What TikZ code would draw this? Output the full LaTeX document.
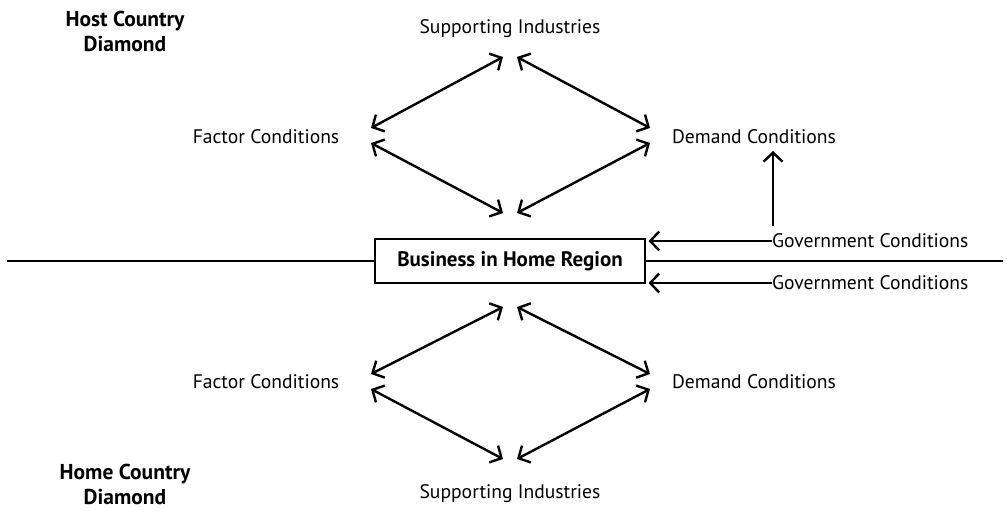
\documentclass[tikz,border=0pt]{standalone}
\usepackage{fontspec}
\setmainfont{PT Sans}
\usetikzlibrary{arrows.meta}
\begin{document}
\begin{tikzpicture}[x=1pt,y=-1pt,
  lbl/.style={font=\fontsize{19.6}{22}\selectfont, inner sep=0pt, anchor=center},
  blbl/.style={font=\fontsize{21.5}{25}\selectfont\bfseries, inner sep=0pt, align=center},
  arr/.style={line width=2.4pt, {Straight Barb[length=9pt,width=19pt,line width=2.4pt]}-{Straight Barb[length=9pt,width=19pt,line width=2.4pt]}},
  sarr/.style={line width=2.4pt, -{Straight Barb[length=9pt,width=19pt,line width=2.4pt]}},
  thin/.style={line width=1.1pt}]
\useasboundingbox (0,0) rectangle (1007,518);
% labels
\node[blbl] (hostd) at (125,31) {Host Country\\Diamond};
\node[blbl] (homed) at (125,484) {Home Country\\Diamond};
\node[lbl] (sup1) at (510,29) {Supporting Industries};
\node[lbl] (fac1) at (266,137) {Factor Conditions};
\node[lbl] (dem1) at (754,137) {Demand Conditions};
\node[lbl] (fac2) at (266,382) {Factor Conditions};
\node[lbl] (dem2) at (754,382) {Demand Conditions};
\node[lbl] (sup2) at (510,494) {Supporting Industries};
\node[lbl, anchor=west] (gov1) at (772,241) {Government Conditions};
\node[lbl, anchor=west] (gov2) at (772,283) {Government Conditions};
% central box
\node[draw, thin, minimum width=270pt, minimum height=44pt, inner sep=0pt,
      font=\fontsize{21}{24}\selectfont\bfseries] (biz) at (510,261) {Business in Home Region};
\coordinate (lend) at (7,261);
\coordinate (rend) at (1003,261);
\draw[thin] (lend) -- (biz.west);
\draw[thin] (biz.east) -- (rend);
% top diamond
\coordinate (t1) at (503,57); \coordinate (t2) at (517,57);
\coordinate (l1) at (371,128); \coordinate (l2) at (371,143);
\coordinate (r1) at (650,128); \coordinate (r2) at (650,143);
\coordinate (b1) at (503,213); \coordinate (b2) at (517,213);
\draw[arr] (l1) -- (t1);
\draw[arr] (t2) -- (r1);
\draw[arr] (l2) -- (b1);
\draw[arr] (r2) -- (b2);
% bottom diamond
\coordinate (bt1) at (503,307); \coordinate (bt2) at (517,307);
\coordinate (bl1) at (371,374); \coordinate (bl2) at (371,389);
\coordinate (br1) at (650,374); \coordinate (br2) at (650,389);
\coordinate (bb1) at (503,459); \coordinate (bb2) at (517,459);
\draw[arr] (bl1) -- (bt1);
\draw[arr] (bt2) -- (br1);
\draw[arr] (bl2) -- (bb1);
\draw[arr] (br2) -- (bb2);
% government arrows
\draw[sarr] (gov1.west) -- ([xshift=3pt]biz.north east |- gov1.west);
\draw[sarr] (gov2.west) -- ([xshift=3pt]biz.south east |- gov2.west);
\coordinate (vstart) at (773,226);
\coordinate (vend) at (773,151);
\draw[sarr] (vstart) -- (vend);
\end{tikzpicture}
\end{document}
